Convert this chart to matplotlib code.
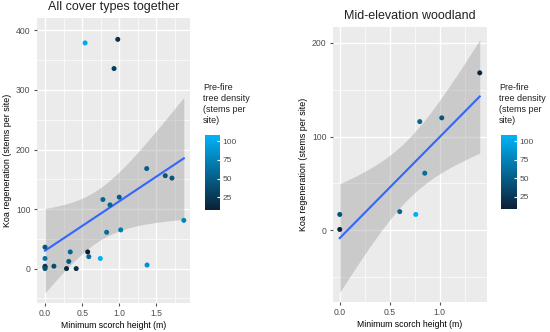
import math
import numpy as np
import matplotlib
matplotlib.use("Agg")
import matplotlib.pyplot as plt
from matplotlib.colors import LinearSegmentedColormap, Normalize
from matplotlib.ticker import MultipleLocator

plt.rcParams["font.family"] = ["Liberation Sans", "DejaVu Sans"]

# ---- data ----
# all cover types together
all_height = [0.54, 0.98, 0.93, 1.37, 1.62, 1.71, 0.78, 1.00, 0.875, 0.83, 1.02, 1.87,
              0.0, 0.0, 0.0, 0.0, 0.0, 0.12, 0.34, 0.32, 0.29, 0.42, 0.575, 0.59, 0.745, 1.375]
all_regen = [379, 385, 336, 168, 156, 152, 116, 120, 107, 61, 65, 81,
             36, 17, 4, 2, 0, 4, 28, 12, 0, 0, 28, 20, 17, 6]
all_density = [100, 20, 28, 50, 45, 45, 55, 50, 55, 60, 70, 75,
               45, 65, 30, 15, 40, 40, 55, 45, 12, 20, 8, 60, 105, 85]

# mid-elevation woodland
mid_height = [1.40, 0.80, 1.02, 0.85, 0.60, 0.76, 0.0, 0.0]
mid_regen = [168, 116, 120, 61, 20, 17, 17, 1]
mid_density = [12, 55, 45, 60, 55, 105, 45, 10]

cmap = LinearSegmentedColormap.from_list("gg", ["#0B1F35", "#00B3F8"])
norm = Normalize(vmin=8, vmax=108)


def t_crit(df, p=0.975):
    x = np.linspace(0, 30, 300001)
    c = math.gamma((df + 1) / 2) / (math.sqrt(df * math.pi) * math.gamma(df / 2))
    pdf = c * (1 + x ** 2 / df) ** (-(df + 1) / 2)
    cdf = 0.5 + np.concatenate([[0], np.cumsum((pdf[1:] + pdf[:-1]) / 2 * np.diff(x))])
    return x[np.searchsorted(cdf, p)]


def panel(fig, rect, cbar_rect, xs, ys, cs, title, xlim, ylim, ymaj, legx):
    ax = fig.add_axes(rect)
    ax.set_facecolor("#EBEBEB")
    for s in ax.spines.values():
        s.set_visible(False)
    ax.set_xlim(*xlim)
    ax.set_ylim(*ylim)
    ax.xaxis.set_major_locator(MultipleLocator(0.5))
    ax.xaxis.set_minor_locator(MultipleLocator(0.25))
    ax.yaxis.set_major_locator(MultipleLocator(ymaj))
    ax.yaxis.set_minor_locator(MultipleLocator(ymaj / 2))
    ax.grid(which="major", color="white", lw=1.0)
    ax.grid(which="minor", color="white", lw=0.5)
    ax.set_axisbelow(True)
    ax.tick_params(which="major", length=2.5, color="#555555", labelsize=6.2,
                   labelcolor="#4D4D4D", pad=2)
    ax.tick_params(which="minor", length=0)

    x = np.array(xs)
    y = np.array(ys)
    n = len(x)
    b, a = np.polyfit(x, y, 1)
    xx = np.linspace(x.min(), x.max(), 100)
    yy = a + b * xx
    resid = y - (a + b * x)
    s = np.sqrt(np.sum(resid ** 2) / (n - 2))
    sxx = np.sum((x - x.mean()) ** 2)
    se = s * np.sqrt(1 / n + (xx - x.mean()) ** 2 / sxx)
    t = t_crit(n - 2)
    ax.fill_between(xx, yy - t * se, yy + t * se, color="#999999", alpha=0.4, lw=0, zorder=2)
    ax.plot(xx, yy, color="#3366FF", lw=1.5, zorder=3)
    ax.scatter(x, y, c=cs, cmap=cmap, norm=norm, s=13, lw=0, zorder=4)

    ax.set_title(title, fontsize=9, color="#222222", pad=6)
    ax.set_xlabel("Minimum scorch height (m)", fontsize=6.2, labelpad=2)
    ax.set_ylabel("Koa regeneration (stems per site)", fontsize=6.4, labelpad=3)

    fig.text(legx, 0.75, "Pre-fire\ntree density\n(stems per\nsite)", fontsize=6.5,
             color="#222222", va="top", ha="left", linespacing=1.3)
    cax = fig.add_axes(cbar_rect)
    cb = fig.colorbar(plt.cm.ScalarMappable(norm=norm, cmap=cmap), cax=cax)
    cb.set_ticks([25, 50, 75, 100])
    cb.outline.set_visible(False)
    cax.tick_params(length=2, color="white", labelsize=6, labelcolor="#4D4D4D", pad=2,
                    direction="in")
    return ax


fig = plt.figure(figsize=(5.5, 3.32), dpi=100)
panel(fig, [0.067, 0.087, 0.278, 0.859], [0.373, 0.367, 0.027, 0.226],
      all_height, all_regen, all_density, "All cover types together",
      (-0.11, 1.95), (-58, 421), 100, 0.369)
panel(fig, [0.605, 0.09, 0.28, 0.829], [0.911, 0.37, 0.029, 0.223],
      mid_height, mid_regen, mid_density, "Mid-elevation woodland",
      (-0.07, 1.47), (-76.5, 217), 100, 0.907)
fig.savefig("out.png", dpi=100)
